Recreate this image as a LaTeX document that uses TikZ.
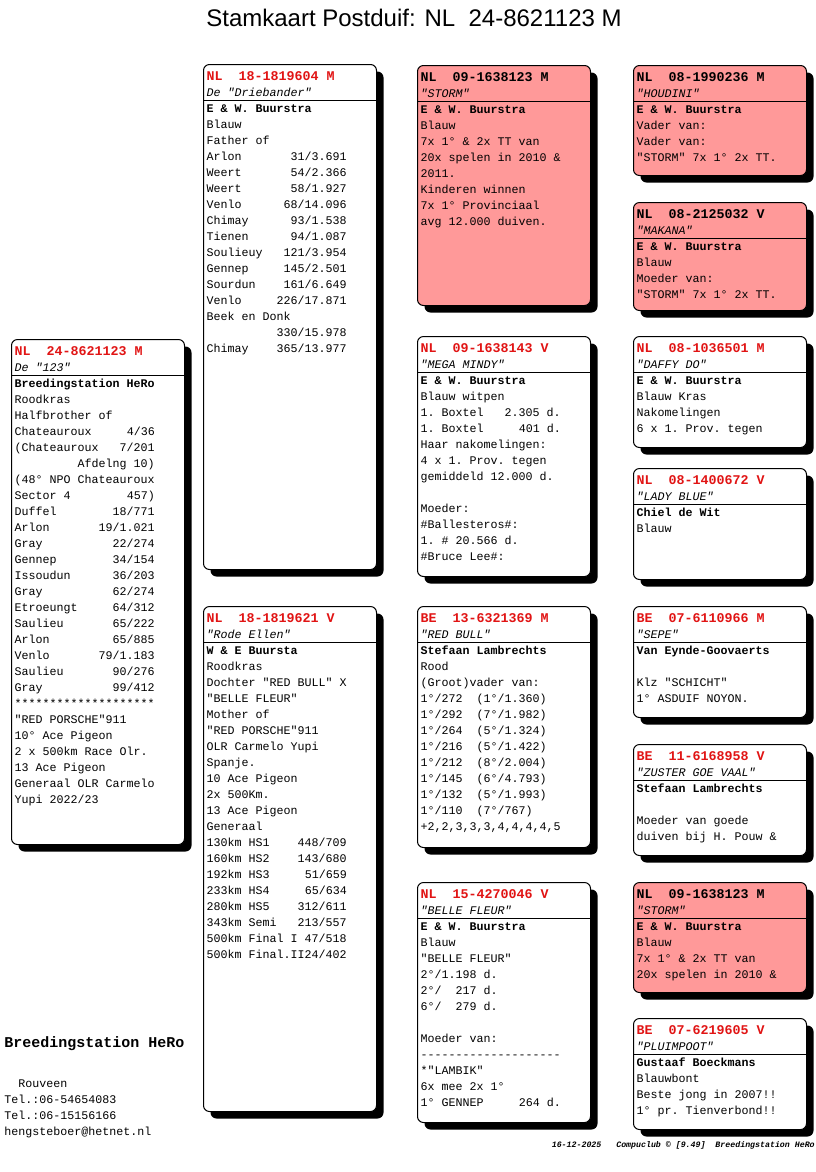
\documentclass[tikz,border=0pt]{standalone}
\usepackage{fontspec}
\setmonofont{Liberation Mono}
\setsansfont{Liberation Sans}
\usetikzlibrary{shadows}
\definecolor{pinkfill}{RGB}{255,153,153}
\definecolor{hdred}{RGB}{225,20,20}
\pgfdeclarelayer{background}
\pgfsetlayers{background,main}
\newcommand\hdr[1]{{\fontsize{10}{12}\selectfont\bfseries\color{hdred}#1}}
\newcommand\hdb[1]{{\fontsize{10}{12}\selectfont\bfseries #1}}
\newcommand\nm[1]{{\itshape #1}}
\newcommand\ow[1]{{\bfseries #1}}
\tikzset{
  pbox/.style={draw, line width=0.75pt, rounded corners=4.5pt, minimum width=129.75pt,
    inner sep=0pt, anchor=north west,
    drop shadow={shadow xshift=5.25pt, shadow yshift=-5.25pt, opacity=1, fill=black}},
  wbox/.style={fill=white},
  pkbox/.style={fill=pinkfill},
  rule/.style={line width=0.75pt},
  txt/.style={anchor=base west, inner sep=0pt, font=\ttfamily\fontsize{8.75}{12}\selectfont\frenchspacing},
  conn/.style={line width=0.75pt}
}
\newcommand\ped[6]{%
  \node[pbox,#5,minimum height={#4*0.75pt}] (#1) at (#2,#3) {};
  \draw[rule] ([yshift=-27pt]#1.north west) -- ([yshift=-27pt]#1.north east);
  \node[txt] (#1t) at ([xshift=2.6pt,yshift=-12pt]#1.north west) {\begin{tabular}[t]{@{}l@{}}#6\end{tabular}};
}
\begin{document}
\begin{tikzpicture}[x=0.75pt,y=-0.75pt]
\useasboundingbox (0,0) rectangle (816,1172);
\fill[white] (0,0) rectangle (816,1172);

\node[anchor=base, font=\sffamily\fontsize{18}{20}\selectfont, inner sep=0pt] (title) at (414,26) {Stamkaart Postduif: NL~~24-8621123 M};

% generation 0
\ped{root}{11}{339}{505}{wbox}{%
\hdr{NL~~24-8621123 M}\\
\nm{De "123"}\\
\ow{Breedingstation HeRo}\\
Roodkras\\
Halfbrother of\\
Chateauroux~~~~~4/36\\
(Chateauroux~~~7/201\\
~~~~~~~~~Afdelng 10)\\
(48° NPO Chateauroux\\
Sector 4~~~~~~~~457)\\
Duffel~~~~~~~~18/771\\
Arlon~~~~~~~19/1.021\\
Gray~~~~~~~~~~22/274\\
Gennep~~~~~~~~34/154\\
Issoudun~~~~~~36/203\\
Gray~~~~~~~~~~62/274\\
Etroeungt~~~~~64/312\\
Saulieu~~~~~~~65/222\\
Arlon~~~~~~~~~65/885\\
Venlo~~~~~~~79/1.183\\
Saulieu~~~~~~~90/276\\
Gray~~~~~~~~~~99/412\\
\relax********************\\
"RED PORSCHE"911\\
10° Ace Pigeon\\
2 x 500km Race Olr.\\
13 Ace Pigeon\\
Generaal OLR Carmelo\\
Yupi 2022/23}

% generation 1
\ped{sire}{203}{64}{505}{wbox}{%
\hdr{NL~~18-1819604 M}\\
\nm{De "Driebander"}\\
\ow{E \& W. Buurstra}\\
Blauw\\
Father of\\
Arlon~~~~~~~31/3.691\\
Weert~~~~~~~54/2.366\\
Weert~~~~~~~58/1.927\\
Venlo~~~~~~68/14.096\\
Chimay~~~~~~93/1.538\\
Tienen~~~~~~94/1.087\\
Soulieuy~~~121/3.954\\
Gennep~~~~~145/2.501\\
Sourdun~~~~161/6.649\\
Venlo~~~~~226/17.871\\
Beek en Donk\\
~~~~~~~~~~330/15.978\\
Chimay~~~~365/13.977}

\ped{dam}{203}{606}{505}{wbox}{%
\hdr{NL~~18-1819621 V}\\
\nm{"Rode Ellen"}\\
\ow{W \& E Buursta}\\
Roodkras\\
Dochter "RED BULL" X\\
"BELLE FLEUR"\\
Mother of\\
"RED PORSCHE"911\\
OLR Carmelo Yupi\\
Spanje.\\
10 Ace Pigeon\\
2x 500Km.\\
13 Ace Pigeon\\
Generaal\\
130km HS1~~~~448/709\\
160km HS2~~~~143/680\\
192km HS3~~~~~51/659\\
233km HS4~~~~~65/634\\
280km HS5~~~~312/611\\
343km Semi~~~213/557\\
500km Final I 47/518\\
500km Final.II24/402}

% generation 2
\ped{storm}{417}{65}{240}{pkbox}{%
\hdb{NL~~09-1638123 M}\\
\nm{"STORM"}\\
\ow{E \& W. Buurstra}\\
Blauw\\
7x 1° \& 2x TT van\\
20x spelen in 2010 \&\\
2011.\\
Kinderen winnen\\
7x 1° Provinciaal\\
avg 12.000 duiven.}

\ped{mega}{417}{336}{240}{wbox}{%
\hdr{NL~~09-1638143 V}\\
\nm{"MEGA MINDY"}\\
\ow{E \& W. Buurstra}\\
Blauw witpen\\
1. Boxtel~~~2.305 d.\\
1. Boxtel~~~~~401 d.\\
Haar nakomelingen:\\
4 x 1. Prov. tegen\\
gemiddeld 12.000 d.\\
\mbox{}\\
Moeder:\\
\#Ballesteros\#:\\
1. \# 20.566 d.\\
\#Bruce Lee\#:}

\ped{redbull}{417}{606}{241}{wbox}{%
\hdr{BE~~13-6321369 M}\\
\nm{"RED BULL"}\\
\ow{Stefaan Lambrechts}\\
Rood\\
(Groot)vader van:\\
1°/272~~(1°/1.360)\\
1°/292~~(7°/1.982)\\
1°/264~~(5°/1.324)\\
1°/216~~(5°/1.422)\\
1°/212~~(8°/2.004)\\
1°/145~~(6°/4.793)\\
1°/132~~(5°/1.993)\\
1°/110~~(7°/767)\\
+2,2,3,3,3,4,4,4,4,5}

\ped{belle}{417}{882}{240}{wbox}{%
\hdr{NL~~15-4270046 V}\\
\nm{"BELLE FLEUR"}\\
\ow{E \& W. Buurstra}\\
Blauw\\
"BELLE FLEUR"\\
2°/1.198 d.\\
2°/~~217 d.\\
6°/~~279 d.\\
\mbox{}\\
Moeder van:\\
-{}-{}-{}-{}-{}-{}-{}-{}-{}-{}-{}-{}-{}-{}-{}-{}-{}-{}-{}-\\
\relax*"LAMBIK"\\
6x mee 2x 1°\\
1° GENNEP~~~~~264 d.}

% generation 3
\ped{houdini}{633}{65}{110}{pkbox}{%
\hdb{NL~~08-1990236 M}\\
\nm{"HOUDINI"}\\
\ow{E \& W. Buurstra}\\
Vader van:\\
Vader van:\\
"STORM" 7x 1° 2x TT.}

\ped{makana}{633}{202}{108}{pkbox}{%
\hdb{NL~~08-2125032 V}\\
\nm{"MAKANA"}\\
\ow{E \& W. Buurstra}\\
Blauw\\
Moeder van:\\
"STORM" 7x 1° 2x TT.}

\ped{daffy}{633}{336}{111}{wbox}{%
\hdr{NL~~08-1036501 M}\\
\nm{"DAFFY DO"}\\
\ow{E \& W. Buurstra}\\
Blauw Kras\\
Nakomelingen\\
6 x 1. Prov. tegen}

\ped{lady}{633}{468}{111}{wbox}{%
\hdr{NL~~08-1400672 V}\\
\nm{"LADY BLUE"}\\
\ow{Chiel de Wit}\\
Blauw}

\ped{sepe}{633}{606}{111}{wbox}{%
\hdr{BE~~07-6110966 M}\\
\nm{"SEPE"}\\
\ow{Van Eynde-Goovaerts}\\
\mbox{}\\
Klz "SCHICHT"\\
1° ASDUIF NOYON.}

\ped{zuster}{633}{744}{111}{wbox}{%
\hdr{BE~~11-6168958 V}\\
\nm{"ZUSTER GOE VAAL"}\\
\ow{Stefaan Lambrechts}\\
\mbox{}\\
Moeder van goede\\
duiven bij H. Pouw \&}

\ped{stormb}{633}{882}{110}{pkbox}{%
\hdb{NL~~09-1638123 M}\\
\nm{"STORM"}\\
\ow{E \& W. Buurstra}\\
Blauw\\
7x 1° \& 2x TT van\\
20x spelen in 2010 \&}

\ped{pluim}{633}{1018}{111}{wbox}{%
\hdr{BE~~07-6219605 V}\\
\nm{"PLUIMPOOT"}\\
\ow{Gustaaf Boeckmans}\\
Blauwbont\\
Beste jong in 2007!!\\
1° pr. Tienverbond!!}

% connectors
\coordinate (j0) at (90,279);
\coordinate (j1) at (90,912);
\coordinate (fa) at (402,322);
\coordinate (fa1) at (402,185);
\coordinate (fa2) at (402,467);
\coordinate (fb) at (402,863);
\coordinate (fb1) at (402,723);
\coordinate (fb2) at (402,1005);
\coordinate (fc) at (615,185);
\coordinate (fc1) at (615,117);
\coordinate (fc2) at (615,253);
\coordinate (fd) at (615,456);
\coordinate (fd1) at (615,387);
\coordinate (fd2) at (615,524);
\coordinate (fe) at (615,727);
\coordinate (fe1) at (615,658);
\coordinate (fe2) at (615,795);
\coordinate (ff) at (615,1003);
\coordinate (ff1) at (615,933);
\coordinate (ff2) at (615,1070);
\begin{pgfonlayer}{background}
\draw[conn] (root.north -| j0) -- (j0) -- (j0 -| sire.west);
\draw[conn] (root.south -| j1) -- (j1) -- (j1 -| dam.west);
\draw[conn] (sire.east |- fa) -- (fa);
\draw[conn] (storm.west |- fa1) -- (fa1) -- (fa2) -- (mega.west |- fa2);
\draw[conn] (dam.east |- fb) -- (fb);
\draw[conn] (redbull.west |- fb1) -- (fb1) -- (fb2) -- (belle.west |- fb2);
\draw[conn] (storm.east |- fc) -- (fc);
\draw[conn] (houdini.west |- fc1) -- (fc1) -- (fc2) -- (makana.west |- fc2);
\draw[conn] (mega.east |- fd) -- (fd);
\draw[conn] (daffy.west |- fd1) -- (fd1) -- (fd2) -- (lady.west |- fd2);
\draw[conn] (redbull.east |- fe) -- (fe);
\draw[conn] (sepe.west |- fe1) -- (fe1) -- (fe2) -- (zuster.west |- fe2);
\draw[conn] (belle.east |- ff) -- (ff);
\draw[conn] (stormb.west |- ff1) -- (ff1) -- (ff2) -- (pluim.west |- ff2);
\end{pgfonlayer}

% breeder block
\node[anchor=base west, inner sep=0pt, font=\ttfamily\bfseries\fontsize{11.25}{13}\selectfont] (breeder) at (4,1047) {Breedingstation HeRo};
\node[txt] (address) at (4,1087) {\begin{tabular}[t]{@{}l@{}}~~Rouveen\\ Tel.:06-54654083\\ Tel.:06-15156166\\ hengsteboer@hetnet.nl\end{tabular}};

% footer
\node[anchor=base east, inner sep=0pt, font=\ttfamily\bfseries\itshape\fontsize{6.2}{8}\selectfont\frenchspacing] (footer) at (815,1147) {16-12-2025~~~Compuclub © [9.49]~~Breedingstation HeRo};
\end{tikzpicture}
\end{document}
